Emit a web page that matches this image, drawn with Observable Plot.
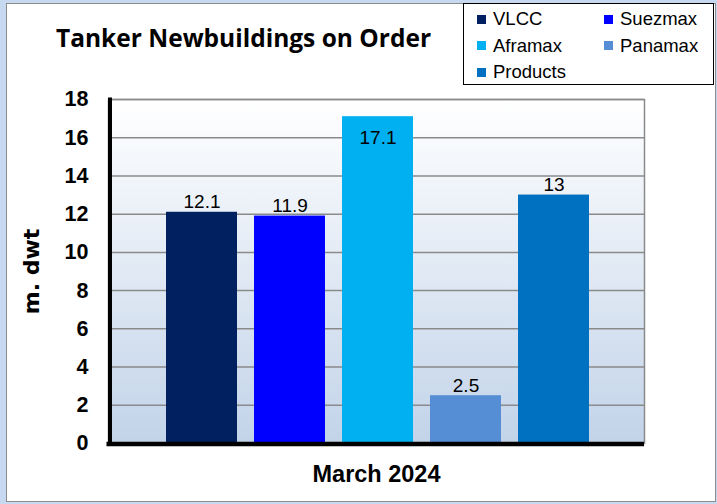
<!DOCTYPE html>
<html><head><meta charset="utf-8">
<script src="https://cdn.jsdelivr.net/npm/d3@7"></script>
<script src="https://cdn.jsdelivr.net/npm/@observablehq/plot@0.6"></script>
<style>
body{margin:0;background:#fff;}
#wrap{position:relative;width:717px;height:504px;background:#c6d9f1;overflow:hidden;font-family:"Liberation Sans",Arial,sans-serif;}
#inner{position:absolute;left:6px;top:3px;width:708px;height:497px;background:#fff;border:1px solid #8c8c8c;}
#chart{position:absolute;left:0;top:0;}
#title{position:absolute;left:56px;top:23px;font-family:"Open Sans",sans-serif;font-weight:bold;font-size:24.5px;line-height:30px;white-space:nowrap;color:#000;}
#legend{position:absolute;left:463px;top:3px;width:249px;height:80px;border:1px solid #000;background:#fff;}
.li{position:absolute;display:flex;align-items:center;font-size:18.5px;line-height:20px;color:#000;white-space:nowrap;}
.sw{width:9px;height:9px;margin-right:7px;}
</style>
</head><body>
<div id="wrap">
  <div id="inner"></div>
  <div id="chart"></div>
  <div id="title">Tanker Newbuildings on Order</div>
  <div id="legend"></div>
</div>
<script>
const series = ["VLCC", "Suezmax", "Aframax", "Panamax", "Products"];
const values = [12.1, 11.9, 17.1, 2.5, 13];
const colors = ["#002060", "#0000ff", "#00b0f0", "#558ed5", "#0070c0"];
const yTicks = [0, 2, 4, 6, 8, 10, 12, 14, 16, 18];
const period = "March 2024";
const yLabel = "m. dwt";

const data = series.map((s, i) => ({series: s, value: values[i]}));

function gradientDefs() {
  const defs = d3.create("svg:defs");
  const lg = defs.append("linearGradient").attr("id", "bgGrad")
    .attr("x1", 0).attr("y1", 0).attr("x2", 0).attr("y2", 1);
  lg.append("stop").attr("offset", "0%").attr("stop-color", "#ffffff");
  lg.append("stop").attr("offset", "100%").attr("stop-color", "#c2d3e9");
  return defs.node();
}

const chart = Plot.plot({
  width: 717,
  height: 504,
  marginLeft: 108,
  marginRight: 73,
  marginTop: 99,
  marginBottom: 61,
  style: {background: "transparent", fontFamily: "'Liberation Sans', Arial, sans-serif", overflow: "visible"},
  x: {domain: series, range: [164, 591], paddingInner: 0.19, paddingOuter: 0, axis: null},
  y: {domain: [0, 18], ticks: yTicks},
  color: {domain: series, range: colors},
  marks: [
    gradientDefs,
    Plot.frame({fill: "url(#bgGrad)", stroke: "#8a8a8a", strokeWidth: 1.5}),
    Plot.gridY(yTicks, {stroke: "#8a8a8a", strokeOpacity: 1, strokeWidth: 1.5}),
    Plot.barY(data, {x: "series", y: "value", fill: "series"}),
    Plot.text(data.filter(d => d.value < 16), {x: "series", y: "value", text: d => String(d.value), lineAnchor: "bottom", dy: -4, fontSize: 19, fill: "#000"}),
    Plot.text(data.filter(d => d.value >= 16), {x: "series", y: "value", text: d => String(d.value), lineAnchor: "bottom", dy: 27, fontSize: 19, fill: "#000"}),
    Plot.frame({anchor: "left", stroke: "#000", strokeWidth: 4, dx: 1.5}),
    Plot.ruleY([0], {stroke: "#000", strokeWidth: 4.5, dy: 0.5, insetLeft: -1.5}),
    Plot.axisY(yTicks, {tickSize: 0, tickPadding: 20, fontSize: 21.5, fontWeight: "bold", fill: "#000",
      label: null}),
    Plot.text([yLabel], {frameAnchor: "left", textAnchor: "middle", dx: -77, rotate: -90, fontSize: 22, fontWeight: "bold",
      fontFamily: "'DejaVu Sans', sans-serif", fill: "#000"}),
    Plot.text([period], {frameAnchor: "bottom", dy: 38, fontSize: 23.5, fontWeight: "bold", fill: "#000"})
  ]
});
document.getElementById("chart").appendChild(chart);

const legend = document.getElementById("legend");
series.forEach((s, i) => {
  const col = i % 2, row = Math.floor(i / 2);
  const item = document.createElement("div");
  item.className = "li";
  item.style.left = (13 + col * 127) + "px";
  item.style.top = (5 + row * 26.5) + "px";
  const sw = document.createElement("span");
  sw.className = "sw";
  sw.style.background = colors[i];
  item.appendChild(sw);
  item.appendChild(document.createTextNode(s));
  legend.appendChild(item);
});
</script>
</body></html>
